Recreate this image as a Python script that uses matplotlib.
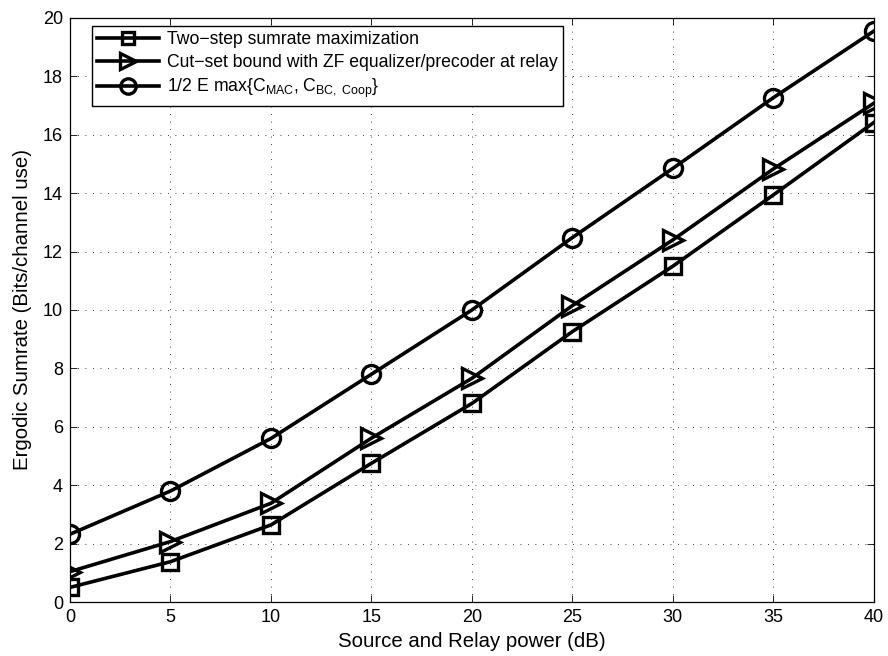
import matplotlib
matplotlib.use("Agg")
import matplotlib.pyplot as plt

plt.rcParams['font.family'] = ['Liberation Sans', 'DejaVu Sans']
plt.rcParams['mathtext.fontset'] = 'custom'
plt.rcParams['mathtext.rm'] = 'Liberation Sans'
plt.rcParams['mathtext.it'] = 'Liberation Sans'
plt.rcParams['mathtext.bf'] = 'Liberation Sans:bold'

power_db = [0, 5, 10, 15, 20, 25, 30, 35, 40]
two_step = [0.50, 1.38, 2.64, 4.75, 6.80, 9.26, 11.50, 13.94, 16.42]
cut_set = [1.04, 2.07, 3.38, 5.61, 7.66, 10.15, 12.40, 14.83, 17.08]
upper = [2.32, 3.80, 5.60, 7.80, 10.00, 12.48, 14.85, 17.27, 19.55]

labels = ['Two\u2212step sumrate maximization',
          'Cut\u2212set bound with ZF equalizer/precoder at relay',
          r'1/2 E max{C$_{\mathrm{MAC}}$, C$_{\mathrm{BC,\ Coop}}$}']
xticks = [0, 5, 10, 15, 20, 25, 30, 35, 40]
yticks = [0, 2, 4, 6, 8, 10, 12, 14, 16, 18, 20]

fig = plt.figure(figsize=(8.88, 6.56), dpi=100)
ax = fig.add_axes([0.0788, 0.0823, 0.9052, 0.8903])

common = dict(color='black', linewidth=2.6, markerfacecolor='none',
              markeredgecolor='black', markeredgewidth=2.4)
ax.plot(power_db, two_step, marker='s', markersize=11, label=labels[0], **common)
ax.plot(power_db, cut_set, marker='>', markersize=14, label=labels[1], **common)
ax.plot(power_db, upper, marker='o', markersize=13, label=labels[2], **common)

ax.set_xlim(0, 40)
ax.set_ylim(0, 20)
ax.set_xticks(xticks)
ax.set_yticks(yticks)
ax.tick_params(direction='in', top=True, right=True, labelsize=13, length=5, width=0.6, pad=5)
ax.grid(True, linestyle=(0, (1, 8)), color='black', linewidth=0.6)
for s in ax.spines.values():
    s.set_linewidth(0.9)

ax.set_xlabel('Source and Relay power (dB)', fontsize=14.7, labelpad=4)
ax.set_ylabel('Ergodic Sumrate (Bits/channel use)', fontsize=14.7, labelpad=8)

leg = ax.legend(loc='upper left', bbox_to_anchor=(0.027, 0.986), fontsize=12.7,
                frameon=True, fancybox=False, edgecolor='black', framealpha=1,
                borderpad=0.3, labelspacing=0.33, handlelength=3.5, handletextpad=0.45,
                borderaxespad=0.0, markerscale=0.85)
leg.get_frame().set_linewidth(1.0)

fig.savefig('out.png', dpi=100)
